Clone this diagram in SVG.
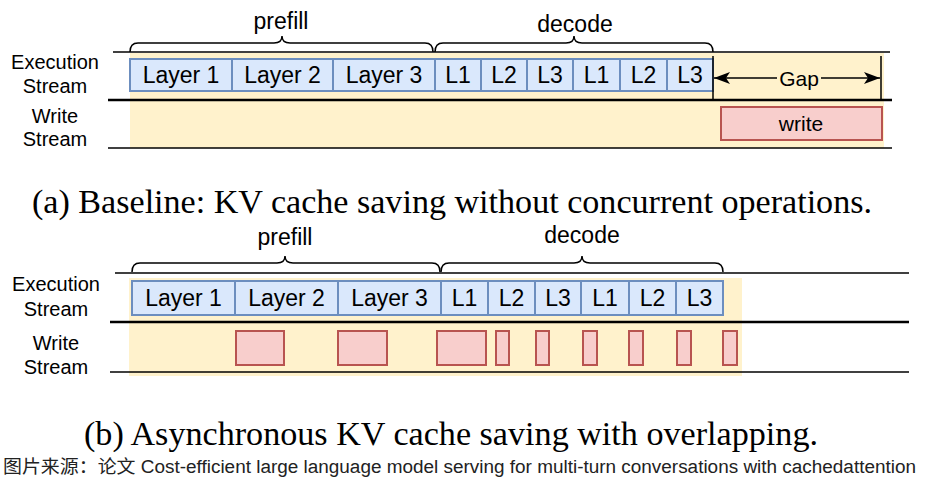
<svg xmlns="http://www.w3.org/2000/svg" width="951" height="492" viewBox="0 0 951 492">
<style>
.bg{fill:#fff2cc;stroke:none}
.blue{fill:#dae8fc;stroke:#6c8ebf;stroke-width:2}
.red{fill:#f8cecc;stroke:#b85450;stroke-width:2}
.ln{stroke:#000;stroke-width:1.5;fill:none}
.lnb{stroke:#000;stroke-width:2.5;fill:none}
.br{stroke:#000;stroke-width:1.5;fill:none}
.lab{font-family:"Liberation Sans",Arial,sans-serif;font-size:20px;fill:#000;text-anchor:middle}
.lay{font-family:"Liberation Sans",Arial,sans-serif;font-size:23px;fill:#000;text-anchor:middle}
.ph{font-family:"Liberation Sans",Arial,sans-serif;font-size:23px;fill:#000;text-anchor:middle}
.gw{font-family:"Liberation Sans",Arial,sans-serif;font-size:21px;fill:#000;text-anchor:middle}
.cap{font-family:"Liberation Serif","Times New Roman",serif;font-size:34px;fill:#000}
.src{font-family:"Liberation Sans","Noto Sans CJK SC",sans-serif;font-size:18px;fill:#222}
</style>
<defs>
<marker id="ah" viewBox="0 0 16 12" refX="16" refY="6" markerWidth="16" markerHeight="12" markerUnits="userSpaceOnUse" orient="auto-start-reverse">
<path d="M0,0 L16,6 L0,12 L4,6 Z" fill="#000"/>
</marker>
</defs>

<!-- (a) baseline -->
<g id="a-background">
<rect class="bg" x="130" y="53" width="754" height="95"/>
</g>
<g id="a-lines">
<line class="ln" x1="113" y1="52" x2="890" y2="52"/>
<line class="lnb" x1="108" y1="100" x2="892" y2="100"/>
<line class="ln" x1="108" y1="148" x2="892" y2="148"/>
</g>
<g id="a-labels">
<text class="lab" x="55" y="69">Execution</text>
<text class="lab" x="55" y="93">Stream</text>
<text class="lab" x="55" y="123">Write</text>
<text class="lab" x="55" y="146">Stream</text>
</g>
<g id="a-prefill">
<path class="br" d="M130,52 Q130,43 138,43 L274,43 Q282,43 282,36 Q282,43 290,43 L425,43 Q433,43 433,52"/>
<text class="ph" x="281" y="29">prefill</text>
</g>
<g id="a-decode">
<path class="br" d="M435,52 Q435,43 443,43 L566,43 Q574,43 574,36 Q574,43 582,43 L705,43 Q713,43 713,52"/>
<text class="ph" x="575" y="32">decode</text>
</g>
<g id="a-exec">
<rect class="blue" x="130" y="59" width="102" height="32"/><text class="lay" x="181" y="83">Layer 1</text>
<rect class="blue" x="232" y="59" width="101" height="32"/><text class="lay" x="282.5" y="83">Layer 2</text>
<rect class="blue" x="333" y="59" width="102" height="32"/><text class="lay" x="384" y="83">Layer 3</text>
<rect class="blue" x="435" y="59" width="46" height="32"/><text class="lay" x="458" y="83">L1</text>
<rect class="blue" x="481" y="59" width="46" height="32"/><text class="lay" x="504" y="83">L2</text>
<rect class="blue" x="527" y="59" width="46" height="32"/><text class="lay" x="550" y="83">L3</text>
<rect class="blue" x="573" y="59" width="47" height="32"/><text class="lay" x="596.5" y="83">L1</text>
<rect class="blue" x="620" y="59" width="47" height="32"/><text class="lay" x="643.5" y="83">L2</text>
<rect class="blue" x="667" y="59" width="46" height="32"/><text class="lay" x="690" y="83">L3</text>
</g>
<g id="a-gap">
<line class="ln" x1="713" y1="56" x2="713" y2="99"/>
<line class="ln" x1="881" y1="56" x2="881" y2="99"/>
<text class="gw" x="799" y="86">Gap</text>
</g>
<g id="a-write">
<rect class="red" x="721" y="107" width="161" height="33"/>
<text class="gw" x="801" y="131">write</text>
</g>

<!-- (b) asynchronous -->
<g id="b-background">
<rect class="bg" x="129" y="278" width="613" height="98"/>
</g>
<g id="b-lines">
<line class="ln" x1="115" y1="273" x2="909" y2="273"/>
<line class="lnb" x1="110" y1="322" x2="909" y2="322"/>
<line class="ln" x1="110" y1="372" x2="909" y2="372"/>
</g>
<g id="b-labels">
<text class="lab" x="56" y="291">Execution</text>
<text class="lab" x="56" y="316">Stream</text>
<text class="lab" x="56" y="350">Write</text>
<text class="lab" x="56" y="374">Stream</text>
</g>
<g id="b-prefill">
<path class="br" d="M132,272 Q132,263 140,263 L277,263 Q285,263 285,256 Q285,263 293,263 L432,263 Q440,263 440,272"/>
<text class="ph" x="285" y="245">prefill</text>
</g>
<g id="b-decode">
<path class="br" d="M441,272 Q441,263 449,263 L574,263 Q582,263 582,256 Q582,263 590,263 L715,263 Q723,263 723,272"/>
<text class="ph" x="582" y="243">decode</text>
</g>
<g id="b-exec">
<rect class="blue" x="132" y="281" width="103" height="34"/><text class="lay" x="183.5" y="306">Layer 1</text>
<rect class="blue" x="235" y="281" width="103" height="34"/><text class="lay" x="286.5" y="306">Layer 2</text>
<rect class="blue" x="338" y="281" width="103" height="34"/><text class="lay" x="389.5" y="306">Layer 3</text>
<rect class="blue" x="441" y="281" width="47" height="34"/><text class="lay" x="464.5" y="306">L1</text>
<rect class="blue" x="488" y="281" width="47" height="34"/><text class="lay" x="511.5" y="306">L2</text>
<rect class="blue" x="535" y="281" width="46" height="34"/><text class="lay" x="558" y="306">L3</text>
<rect class="blue" x="581" y="281" width="48" height="34"/><text class="lay" x="605" y="306">L1</text>
<rect class="blue" x="629" y="281" width="47" height="34"/><text class="lay" x="652.5" y="306">L2</text>
<rect class="blue" x="676" y="281" width="47" height="34"/><text class="lay" x="699.5" y="306">L3</text>
</g>
<g id="b-writes">
<rect class="red" x="236" y="331" width="48" height="34"/>
<rect class="red" x="338" y="331" width="49" height="34"/>
<rect class="red" x="437" y="331" width="49" height="34"/>
<rect class="red" x="496" y="331" width="13" height="34"/>
<rect class="red" x="536" y="331" width="13" height="34"/>
<rect class="red" x="583" y="331" width="14" height="34"/>
<rect class="red" x="629" y="331" width="14" height="34"/>
<rect class="red" x="677" y="331" width="14" height="34"/>
<rect class="red" x="723" y="331" width="14" height="34"/>
</g>

<g id="connectors">
<line class="ln" x1="714" y1="78" x2="777" y2="78" marker-start="url(#ah)"/>
<line class="ln" x1="821" y1="78" x2="880" y2="78" marker-end="url(#ah)"/>
</g>

<g id="captions">
<text class="cap" x="32" y="213" textLength="840" lengthAdjust="spacingAndGlyphs">(a) Baseline: KV cache saving without concurrent operations.</text>
<text class="cap" x="84" y="445" textLength="734" lengthAdjust="spacingAndGlyphs">(b) Asynchronous KV cache saving with overlapping.</text>
<text class="src" x="3" y="473" textLength="913" lengthAdjust="spacingAndGlyphs">图片来源：论文 Cost-efficient large language model serving for multi-turn conversations with cachedattention</text>
</g>
</svg>
